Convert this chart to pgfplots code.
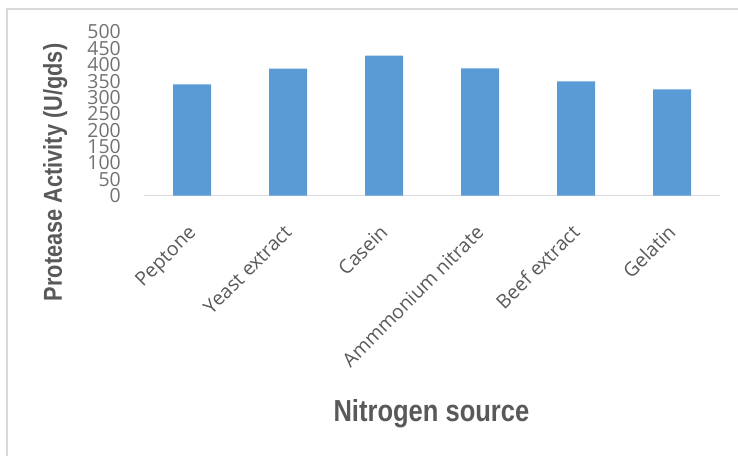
\documentclass[border=0pt]{standalone}
\usepackage{fontspec}
\setmainfont{Open Sans}
\newfontfamily\titlefont[FakeStretch=0.84]{Liberation Sans}
\usepackage{pgfplots}
\pgfplotsset{compat=1.18}
\definecolor{barblue}{HTML}{5B9BD5}
\definecolor{axisgray}{HTML}{D9D9D9}
\definecolor{textgray}{HTML}{595959}
\begin{document}
\begin{tikzpicture}
\path[use as bounding box] (0,0) rectangle (738bp,-456bp);
\draw[axisgray, line width=2bp] (7bp,-456bp) -- (7bp,-8.5bp) -- (738bp,-8.5bp);
\begin{axis}[
  at={(144bp,-195.7bp)}, anchor=south west,
  scale only axis, width=576bp, height=163.7bp,
  ybar, bar width=38bp,
  xmin=-0.5, xmax=5.5, ymin=0, ymax=500,
  axis x line*=bottom, axis y line*=left,
  x axis line style={draw=axisgray, line width=1.5bp},
  y axis line style={draw=none},
  xtick={0,...,5},
  xticklabels={Peptone,Yeast extract,Casein,Ammmonium nitrate,Beef extract,Gelatin},
  ytick={0,50,...,500},
  major tick length=0,
  /pgf/number format/assume math mode=true,
  yticklabel style={font=\fontsize{19.5}{19.5}\selectfont, text=textgray!85, anchor=east, inner sep=0pt, xshift=-23bp},
  xticklabel style={font=\fontsize{19.5}{19.5}\selectfont, text=textgray, xshift=5bp, yshift=-38bp, anchor=base east, inner sep=0pt, rotate=45},
  xlabel={Nitrogen source},
  ylabel={Protease Activity (U/gds)},
  xlabel style={font=\titlefont\bfseries\fontsize{30.5}{30.5}\selectfont, text=textgray, at={(axis description cs:0.499,-1.381)}, anchor=base},
  ylabel style={font=\titlefont\bfseries\fontsize{26}{26}\selectfont, text=textgray, at={(axis description cs:-0.1424,0.142)}, anchor=base},
]
\addplot[fill=barblue, draw=none] coordinates {(0,340) (1,388) (2,428) (3,389) (4,349) (5,325)};
\end{axis}
\end{tikzpicture}
\end{document}
